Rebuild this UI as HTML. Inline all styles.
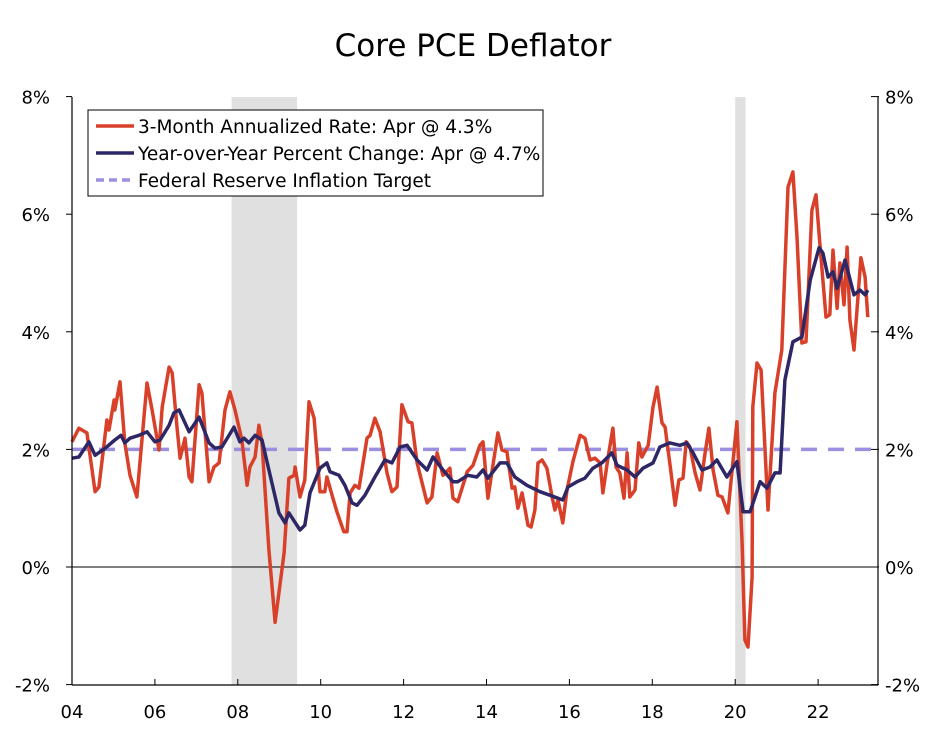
<!DOCTYPE html>
<html><head><meta charset="utf-8"><style>
body{margin:0;background:#fff}
svg text{font-family:"DejaVu Sans","Liberation Sans",sans-serif;fill:#000}
</style></head><body>
<svg id="chart" width="947" height="727" xmlns="http://www.w3.org/2000/svg">
<text x="473" y="56" font-size="31" text-anchor="middle">Core PCE Deflator</text>
<g id="plot"></g>
</svg>
<script>
// months since Jan 2004
const redMonths=[0,2,4.3,6.7,7.8,10.1,10.7,12.2,12.4,13.9,15.3,16.8,18.8,21.7,23.2,25.2,26.1,28.1,29,30.4,31.3,32.7,33.9,34.7,36.8,37.6,39.7,41.1,42.6,44.3,45.7,47.2,49.2,50.7,51.5,53,54.1,55,57,58.8,61.4,62.8,64.3,64.6,66,67.4,68.6,70.1,71.8,73.2,73.8,75.3,76.7,78.7,79.6,80.5,81.9,83.1,85.4,86.3,87.7,89.2,91.2,92.6,94.1,95.5,97.3,98.4,99.9,102.8,104.2,105.7,107.4,109.4,110.3,111.7,114.4,116.1,118.1,119,120.4,123.3,124.5,125.9,127.4,128.2,129.1,130.3,132,132.9,134,134.9,136.1,137.5,139,139.8,140.7,142.1,143.3,145,147.1,148.5,150,151.4,152.9,153.7,155.2,156.6,157.5,158.6,159.8,160.7,161.5,163,164.1,165,166.8,168.2,169.4,170.8,171.7,173.2,174.6,175.7,176.9,177.8,178.9,180.4,181.8,183.3,184.4,185.6,187,188.2,189.9,192.5,194,194.8,195.7,196.9,197.1,198.3,199.5,201.5,203.5,205.5,207.3,208.7,209.9,211.3,212.5,214.2,215.4,216.5,218.3,219.4,220.3,221.5,222.3,223.5,224.4,225.2,226.4,228.4,229.6,230.4];
const redValues=[2.13,2.36,2.28,1.28,1.36,2.5,2.33,2.84,2.67,3.15,2.11,1.56,1.19,3.13,2.67,1.99,2.72,3.4,3.3,2.38,1.85,2.19,1.53,1.45,3.1,2.96,1.45,1.7,1.77,2.67,2.98,2.67,2.16,1.39,1.7,1.87,2.41,2.11,0.29,-0.94,0.24,1.51,1.56,1.7,1.19,1.48,2.81,2.53,1.28,1.28,1.53,1.22,0.94,0.6,0.6,1.26,1.39,1.34,2.19,2.24,2.53,2.3,1.6,1.28,1.36,2.76,2.47,2.45,1.77,1.09,1.19,1.94,1.56,1.68,1.17,1.11,1.62,1.73,2.07,2.13,1.17,2.28,1.99,1.96,1.34,1.36,1.0,1.26,0.71,0.68,0.97,1.77,1.82,1.68,1.19,0.97,1.14,0.75,1.31,1.79,2.24,2.19,1.82,1.85,1.77,1.26,1.87,2.36,1.7,1.6,1.17,1.94,1.19,1.31,2.11,1.87,2.07,2.72,3.06,2.45,2.38,1.7,1.05,1.48,1.51,2.13,2.04,1.6,1.31,1.94,2.36,1.65,1.22,1.19,0.92,2.47,0.41,-1.24,-1.36,-0.17,2.72,3.47,3.35,0.97,2.96,3.69,6.46,6.72,5.61,3.81,3.83,6.07,6.33,5.51,4.25,4.29,5.39,4.4,5.17,4.46,5.44,4.2,3.69,5.26,4.93,4.25];
const yoyMonths=[0,2,4.9,6.7,9.6,12.4,14.2,15.3,16.8,19.4,21.7,24,25.5,28.1,29.5,31,33.9,36.8,39.7,41.4,43.4,46.9,48.6,49.8,51.2,53,55,57,59.9,61.7,62.8,66,67.4,68.9,71.8,73.8,74.7,77.3,79,81.1,82.5,84.8,87.7,90.6,92.6,95,97,99.9,102.8,104.5,107.4,110.3,111.7,114.6,117.2,119,120.4,123.9,125.9,128.2,131.7,135.5,138.4,142.1,143.6,146.2,148.5,150.8,153.4,156.3,157.8,160.7,163,165.3,168.2,170.2,173.1,176,178,179.8,182.4,184.7,186.7,189.6,192.5,194.3,196.3,199.2,201.2,203.5,205,206.4,208.7,211.3,213.7,216.3,217.4,218.9,220.3,221.5,223.8,226.4,228.1,229.6,230.4];
const yoyValues=[1.85,1.87,2.13,1.9,2.02,2.16,2.24,2.11,2.19,2.24,2.3,2.13,2.16,2.41,2.62,2.67,2.3,2.55,2.11,2.02,2.04,2.38,2.13,2.19,2.11,2.24,2.16,1.65,0.92,0.75,0.92,0.63,0.71,1.26,1.68,1.77,1.62,1.56,1.39,1.09,1.05,1.22,1.53,1.82,1.77,2.04,2.07,1.82,1.65,1.87,1.65,1.45,1.45,1.56,1.53,1.65,1.51,1.77,1.77,1.53,1.39,1.28,1.22,1.14,1.36,1.45,1.51,1.68,1.77,1.94,1.73,1.65,1.53,1.68,1.77,2.04,2.11,2.07,2.11,1.94,1.65,1.7,1.82,1.53,1.79,0.94,0.94,1.45,1.34,1.6,1.6,3.18,3.83,3.91,4.88,5.43,5.34,4.93,5.02,4.74,5.22,4.63,4.71,4.63,4.71];
const target=2;
const yTicks=[-2,0,2,4,6,8];
const xTickYears=[2004,2006,2008,2010,2012,2014,2016,2018,2020,2022];
const xTickLabels=["04","06","08","10","12","14","16","18","20","22"];
const recessions=[[2007.85,2009.43],[2020.0,2020.25]];

const L=72,R=878,T=97,B=685;
const ppy=41.45;
const xYear=y=>L+(y-2004)*ppy;
const xMonth=m=>L+m/12*ppy;
const yVal=v=>567-v*58.8;
const NS="http://www.w3.org/2000/svg";
const g=document.getElementById('plot');
function mk(tag,attrs){const e=document.createElementNS(NS,tag);for(const k in attrs)e.setAttribute(k,attrs[k]);g.appendChild(e);return e;}

recessions.forEach(r=>{
  const e=mk('rect',{x:xYear(r[0]),y:T,width:xYear(r[1])-xYear(r[0]),height:B-T,fill:'#e0e0e0'});
  
  
});
let e=mk('line',{x1:L,x2:R,y1:yVal(0),y2:yVal(0),stroke:'#000','stroke-width':1});


e=mk('line',{x1:L,x2:R,y1:yVal(target),y2:yVal(target),stroke:'#9b8fe0','stroke-width':3.5,'stroke-dasharray':'16,11'});



function path(ms,vs,color,w,name){
  const d=ms.map((m,i)=>(i?'L':'M')+xMonth(m).toFixed(1)+','+yVal(vs[i]).toFixed(1)).join('');
  const p=mk('path',{d:d,fill:'none',stroke:color,'stroke-width':w,'stroke-linejoin':'round'});
  
  
}
path(redMonths,redValues,'#d9402a',3.5,'three-month-annualized-line');
path(yoyMonths,yoyValues,'#2e2766',3.5,'yoy-change-line');

e=mk('line',{x1:L,x2:L,y1:T,y2:B,stroke:'#000','stroke-width':1.2});


e=mk('line',{x1:R,x2:R,y1:T,y2:B,stroke:'#000','stroke-width':1.2});


e=mk('line',{x1:L,x2:R,y1:B,y2:B,stroke:'#000','stroke-width':1.2});


yTicks.forEach(v=>{
  mk('line',{x1:L-6,x2:L,y1:yVal(v),y2:yVal(v),stroke:'#000'});
  mk('line',{x1:R-7,x2:R+1,y1:yVal(v),y2:yVal(v),stroke:'#000'});
  let t=mk('text',{x:50,y:yVal(v)+7,'font-size':18,'text-anchor':'end'});t.textContent=v+'%';
  
  
  t=mk('text',{x:885,y:yVal(v)+7,'font-size':18});t.textContent=v+'%';
  
  
});
xTickYears.forEach((yr,i)=>{
  mk('line',{x1:xYear(yr),x2:xYear(yr),y1:B-6,y2:B,stroke:'#000'});
  const t=mk('text',{x:xYear(yr),y:B+33,'font-size':18,'text-anchor':'middle'});t.textContent=xTickLabels[i];
  
  
});

e=mk('rect',{x:88,y:110,width:455,height:86,fill:'#fff',stroke:'#000','stroke-width':1});


const leg=[['#d9402a','','3-Month Annualized Rate: Apr @ 4.3%'],['#2e2766','','Year-over-Year Percent Change: Apr @ 4.7%'],['#9b8fe0','8,5','Federal Reserve Inflation Target']];
leg.forEach((l,i)=>{
  const y=126+i*27;
  const a={x1:96,x2:134,y1:y,y2:y,stroke:l[0],'stroke-width':3.5};
  if(l[1])a['stroke-dasharray']=l[1];
  mk('line',a);
  const t=mk('text',{x:138,y:y+7,'font-size':18.5});t.textContent=l[2];
  
  
});
</script>
</body></html>
